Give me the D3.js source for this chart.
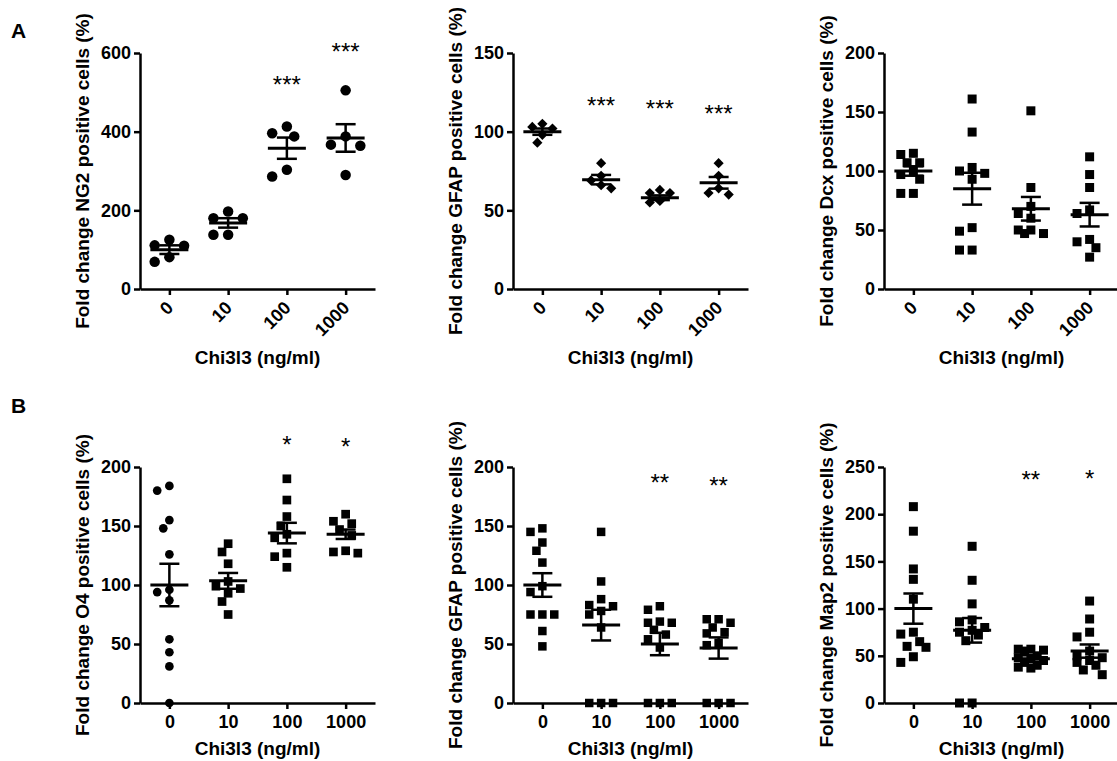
<!doctype html>
<html lang="en">
<head>
<meta charset="utf-8">
<title>Chi3l3 fold change</title>
<script src="https://cdn.jsdelivr.net/npm/d3@7"></script>
<style>
  body { margin: 0; background: #fff; }
  svg { display: block; }
</style>
</head>
<body>
<script>
// doses on the x axis
const doses = ["0", "10", "100", "1000"]

// A, NG2
const ng2Points = [
  [125, 111, 110, 81, 69],
  [197, 180, 180, 138, 138],
  [413, 396, 388, 303, 286],
  [505, 388, 367, 364, 290]
]
const ng2Mean = [100, 168, 358, 384]
const ng2Sem = [11, 12, 27, 35]
const ng2Stars = ["", "", "***", "***"]
const ng2StarAt = [0, 0, 532, 616]

// A, GFAP
const gfapAPoints = [
  [105, 103, 102, 98, 93],
  [80, 72, 69, 66, 64],
  [63, 61, 61, 56, 55],
  [80, 72, 64, 61, 60]
]
const gfapAMean = [100, 69.5, 58, 67.5]
const gfapASem = [2, 3, 1.5, 3.7]
const gfapAStars = ["", "***", "***", "***"]
const gfapAStarAt = [0, 120, 118, 115]

// A, Dcx
const dcxPoints = [
  [115, 114, 107, 107, 100, 97, 93, 81, 81],
  [161, 133, 103, 100, 98, 93, 52, 49, 33, 33],
  [151, 86, 70, 64, 60, 50, 50, 47, 47],
  [112, 97, 86, 67, 64, 42, 40, 35, 27]
]
const dcxMean = [100, 85, 68, 63]
const dcxSem = [4, 13.5, 10, 10]

// B, O4
const o4Points = [
  [184, 180, 155, 148, 126, 96, 94, 87, 54, 43, 31, 0],
  [135, 128, 118, 103, 99, 97, 93, 86, 75],
  [190, 172, 158, 150, 143, 140, 127, 124, 115],
  [160, 154, 152, 147, 142, 129, 128, 127]
]
const o4Mean = [100, 103.5, 144, 143]
const o4Sem = [18, 6.7, 8.7, 4]
const o4Stars = ["", "", "*", "*"]
const o4StarAt = [0, 0, 223, 222]

// B, GFAP
const gfapBPoints = [
  [148, 145, 136, 129, 119, 99, 94, 75, 75, 75, 61, 48],
  [145, 103, 88, 83, 82, 78, 75, 64, 0, 0, 0],
  [82, 79, 69, 68, 68, 62, 58, 54, 47, 0, 0, 0],
  [71, 71, 68, 64, 60, 59, 51, 49, 0, 0, 0]
]
const gfapBMean = [100, 66, 50, 46.6]
const gfapBSem = [10, 13, 9.5, 9]
const gfapBStars = ["", "", "**", "**"]
const gfapBStarAt = [0, 0, 191, 188.5]

// B, Map2
const map2Points = [
  [208, 182, 142, 131, 110, 75, 73, 65, 60, 59, 49, 43],
  [166, 130, 105, 88, 86, 80, 77, 75, 72, 66, 0, 0],
  [57, 57, 56, 55, 50, 48, 47, 45, 43, 40, 38, 37],
  [108, 89, 75, 70, 55, 50, 48, 45, 43, 40, 35, 30]
]
const map2Mean = [100, 77, 47, 55]
const map2Sem = [16, 13, 3.5, 7]
const map2Stars = ["", "", "**", "*"]
const map2StarAt = [0, 0, 242, 243.6]

const font = "'Liberation Sans', Arial, sans-serif"
const noStars = ["", "", "", ""]

const panels = [
  { x0: 140, top: 53, bottom: 289, max: 600, step: 200, rotate: true, title: "Fold change NG2 positive cells (%)",
    points: ng2Points, mean: ng2Mean, sem: ng2Sem, stars: ng2Stars, starAt: ng2StarAt,
    shape: ["circle", "circle", "circle", "circle"], size: 10.5 },
  { x0: 513, top: 53, bottom: 289, max: 150, step: 50, rotate: true, title: "Fold change GFAP positive cells (%)",
    points: gfapAPoints, mean: gfapAMean, sem: gfapASem, stars: gfapAStars, starAt: gfapAStarAt,
    shape: ["diamond", "diamond", "diamond", "diamond"], size: 7.2 },
  { x0: 884, top: 53, bottom: 289, max: 200, step: 50, rotate: true, title: "Fold change Dcx positive cells (%)",
    points: dcxPoints, mean: dcxMean, sem: dcxSem, stars: noStars, starAt: [0, 0, 0, 0],
    shape: ["square", "square", "square", "square"], size: 9 },
  { x0: 140, top: 467, bottom: 703, max: 200, step: 50, rotate: false, title: "Fold change O4 positive cells (%)",
    points: o4Points, mean: o4Mean, sem: o4Sem, stars: o4Stars, starAt: o4StarAt,
    shape: ["circle", "square", "square", "square"], size: 8.7 },
  { x0: 513, top: 467, bottom: 703, max: 200, step: 50, rotate: false, title: "Fold change GFAP positive cells (%)",
    points: gfapBPoints, mean: gfapBMean, sem: gfapBSem, stars: gfapBStars, starAt: gfapBStarAt,
    shape: ["square", "square", "square", "square"], size: 8.5 },
  { x0: 884, top: 467, bottom: 703, max: 250, step: 50, rotate: false, title: "Fold change Map2 positive cells (%)",
    points: map2Points, mean: map2Mean, sem: map2Sem, stars: map2Stars, starAt: map2StarAt,
    shape: ["square", "square", "square", "square"], size: 9 }
]

const svg = d3.select("body").append("svg")
  .attr("width", 1117)
  .attr("height", 761)
  .attr("font-family", font)

svg.append("rect").attr("width", 1117).attr("height", 761).attr("fill", "#fff")

// panel letters
svg.append("text").attr("x", 11).attr("y", 38).attr("font-size", 21).attr("font-weight", "bold").text("A")
svg.append("text").attr("x", 11).attr("y", 413).attr("font-size", 21).attr("font-weight", "bold").text("B")

// spread points sideways like a scatter dot plot, within a limited width
function swarm(vals, y, size) {
  const placed = []
  const gap = size * 1.15, step = size * 0.7, limit = size * 1.6
  const cands = [0]
  for (let k = 1; k * step <= limit + 0.01; k++) cands.push(-k * step, k * step)
  return vals.map(v => {
    const py = y(v)
    let best = 0, bestD = -1
    for (const c of cands) {
      const d = placed.length ? d3.min(placed, p => Math.hypot(p[0] - c, p[1] - py)) : Infinity
      if (d >= gap) { best = c; break }
      if (d > bestD) { bestD = d; best = c }
    }
    placed.push([best, py])
    return best
  })
}

function marker(shape, size) {
  if (shape === "circle") return d3.symbol(d3.symbolCircle, Math.PI * size * size / 4)()
  return d3.symbol(d3.symbolSquare, size * size)()
}

for (const p of panels) {
  const g = svg.append("g")

  const x = d3.scalePoint().domain(doses).range([p.x0, p.x0 + 235]).padding(0.5)
  const y = d3.scaleLinear().domain([0, p.max]).range([p.bottom, p.top])

  // y axis
  const ya = g.append("g")
    .attr("transform", `translate(${p.x0},0)`)
    .call(d3.axisLeft(y).tickValues(d3.range(0, p.max + 1, p.step)).tickSize(6).tickSizeOuter(0).tickPadding(3))
  ya.selectAll("path, line").attr("stroke", "#000").attr("stroke-width", 2.5)
  ya.selectAll("text").attr("font-size", 18).attr("font-weight", "bold").attr("font-family", font).attr("fill", "#000")

  // x axis
  const xa = g.append("g")
    .attr("transform", `translate(0,${p.bottom})`)
    .call(d3.axisBottom(x).tickSize(6).tickSizeOuter(0).tickPadding(6.4))
  xa.selectAll("path, line").attr("stroke", "#000").attr("stroke-width", 2.5)
  xa.selectAll("text").attr("font-size", 18).attr("font-weight", "bold").attr("font-family", font).attr("fill", "#000")
  if (p.rotate) {
    xa.selectAll("text")
      .attr("x", 0).attr("y", 0).attr("dy", 0)
      .attr("text-anchor", "end")
      .attr("transform", "translate(4.5,20) rotate(-45)")
  }

  // axis titles
  g.append("text")
    .attr("transform", `translate(${p.x0 - 51},${(p.top + p.bottom) / 2}) rotate(-90)`)
    .attr("text-anchor", "middle")
    .attr("font-size", 19).attr("font-weight", "bold")
    .text(p.title)
  g.append("text")
    .attr("x", x(doses[0]) + (x(doses[3]) - x(doses[0])) / 2)
    .attr("y", p.rotate ? p.bottom + 75 : p.bottom + 52)
    .attr("text-anchor", "middle")
    .attr("font-size", 19).attr("font-weight", "bold")
    .text("Chi3l3 (ng/ml)")

  doses.forEach((d, i) => {
    const cx = x(d)
    const vals = p.points[i]
    const offs = swarm(vals, y, p.size)

    g.append("g").selectAll("path")
      .data(vals)
      .join("path")
      .attr("d", marker(p.shape[i], p.size))
      .attr("transform", (v, j) => `translate(${cx + offs[j]},${y(v)})` + (p.shape[i] === "diamond" ? " rotate(45)" : ""))
      .attr("fill", "#000")

    // mean and SEM
    const m = p.mean[i], s = p.sem[i]
    const eb = g.append("g").attr("stroke", "#000")
    eb.append("line").attr("x1", cx - 19).attr("x2", cx + 19).attr("y1", y(m)).attr("y2", y(m)).attr("stroke-width", 3)
    eb.append("line").attr("x1", cx).attr("x2", cx).attr("y1", y(m - s)).attr("y2", y(m + s)).attr("stroke-width", 2.5)
    for (const v of [m - s, m + s]) {
      eb.append("line").attr("x1", cx - 10).attr("x2", cx + 10).attr("y1", y(v)).attr("y2", y(v)).attr("stroke-width", 2.5)
    }

    if (p.stars[i]) {
      g.append("text")
        .attr("x", cx).attr("y", y(p.starAt[i]) + 13.5)
        .attr("text-anchor", "middle")
        .attr("font-size", 24)
        .text(p.stars[i])
    }
  })
}
</script>
</body>
</html>
